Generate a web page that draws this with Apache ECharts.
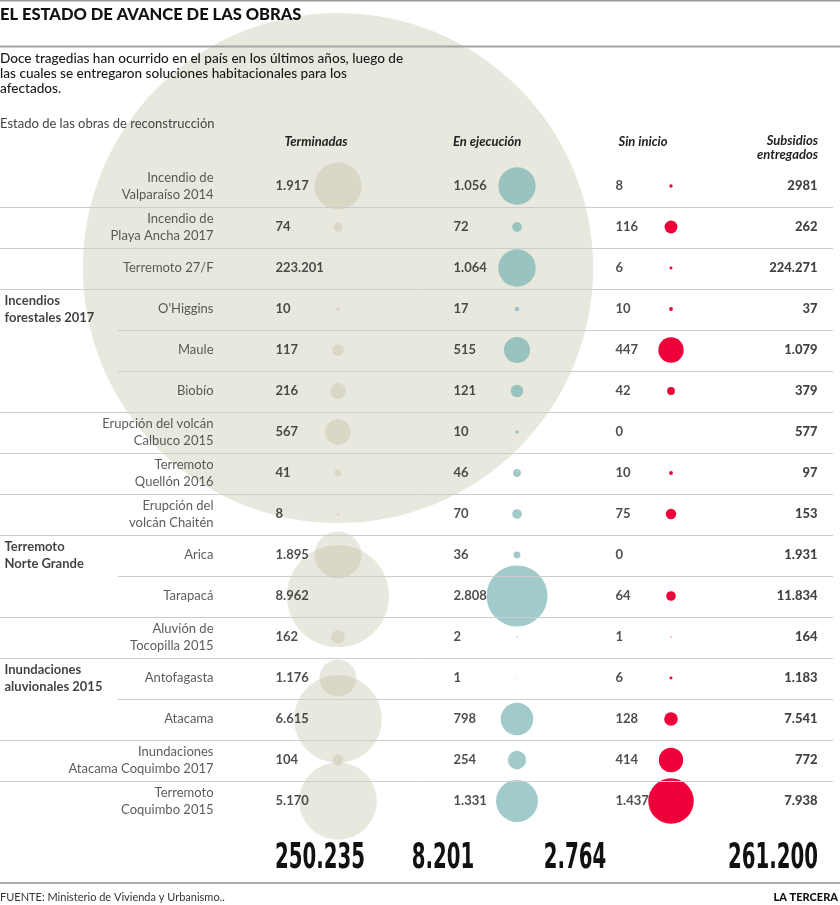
<!DOCTYPE html>
<html><head><meta charset="utf-8">
<script src="https://cdn.jsdelivr.net/npm/echarts@6/dist/echarts.min.js"></script>
<style>html,body{margin:0;padding:0;background:#fff}#c{width:840px;height:905px}</style>
</head><body><div id="c"></div>
<script>
// ---- data ----
const rows = ['Incendio de\nValparaíso 2014', 'Incendio de\nPlaya Ancha 2017', 'Terremoto 27/F', "O'Higgins", 'Maule', 'Biobío',
  'Erupción del volcán\nCalbuco 2015', 'Terremoto\nQuellón 2016', 'Erupción del\nvolcán Chaitén', 'Arica', 'Tarapacá',
  'Aluvión de\nTocopilla 2015', 'Antofagasta', 'Atacama', 'Inundaciones\nAtacama Coquimbo 2017', 'Terremoto\nCoquimbo 2015'];
const groupOf = [0, 0, 0, 1, 1, 1, 0, 0, 0, 2, 2, 0, 3, 3, 0, 0];
const groupNames = ['', 'Incendios\nforestales 2017', 'Terremoto\nNorte Grande', 'Inundaciones\naluvionales 2015'];
const terminadas = [1917, 74, 223201, 10, 117, 216, 567, 41, 8, 1895, 8962, 162, 1176, 6615, 104, 5170];
const enEjecucion = [1056, 72, 1064, 17, 515, 121, 10, 46, 70, 36, 2808, 2, 1, 798, 254, 1331];
const sinInicio = [8, 116, 6, 10, 447, 42, 0, 10, 75, 0, 64, 1, 6, 128, 414, 1437];
const subsidios = ['2981', '262', '224.271', '37', '1.079', '379', '577', '97', '153', '1.931', '11.834', '164', '1.183', '7.541', '772', '7.938'];
const totals = [250235, 8201, 2764, 261200];
const headers = ['Terminadas', 'En ejecución', 'Sin inicio', 'Subsidios\nentregados'];

// ---- layout ----
const F = 'Lato, "Open Sans", sans-serif';
const FT = '"DejaVu Sans Condensed", "DejaVu Sans", sans-serif';
const L = { groupLeft: 4, labelRight: 214, termNum: 275, termBubble: 338, ejNum: 453, ejBubble: 517,
  siNum: 615, siBubble: 671, subRight: 818, lineStart: 0, lineStartSub: 118, lineEnd: 833 };
const K = { term: 1.08, ej: 1.15, si: 1.2 };
const fmt = v => String(v).replace(/\B(?=(\d{3})+(?!\d))/g, '.');

function textSeries(x, labels, position, style) {
  return {
    type: 'scatter', z: 5, silent: true, clip: false, symbolSize: 1,
    itemStyle: { color: 'transparent' },
    data: labels.map((t, i) => ({ value: [x, i], name: t })).filter(d => d.name !== '' && d.name != null),
    label: Object.assign({ show: true, position, distance: 0, formatter: '{b}', fontFamily: F,
      fontSize: 13, color: '#222', lineHeight: 17 }, style)
  };
}
function bubbleSeries(x, values, k, color) {
  return {
    type: 'scatter', z: 2, silent: true, clip: false,
    data: values.map((v, i) => [x, i, v]).filter(d => d[2] > 0),
    symbolSize: d => k * Math.sqrt(d[2]),
    itemStyle: { color, opacity: 1 }
  };
}

const sepData = [];
for (let i = 0; i < rows.length - 1; i++) {
  const inner = groupOf[i] && groupOf[i] === groupOf[i + 1];
  sepData.push([inner ? L.lineStartSub : L.lineStart, i]);
}

const chart = echarts.init(document.getElementById('c'));
const txt = (x, y, text, o) => ({ type: 'text', x, y, z: 10, style: Object.assign({ text, fill: '#222', fontFamily: F, fontSize: 13, align: 'left', verticalAlign: 'middle' }, o) });
const totalTxt = (x, v, align) => Object.assign(txt(x, 859, fmt(v), { align, fontSize: 36, fontWeight: 'bold', fontFamily: FT, fill: '#111' }), { scaleX: 0.61 });

chart.setOption({
  animation: false,
  grid: { left: 0, right: 0, top: 165.5, height: 656 },
  xAxis: { type: 'value', min: 0, max: 840, show: false },
  yAxis: { type: 'category', data: rows.map((r, i) => i), inverse: true, show: false },
  series: [
    bubbleSeries(L.termBubble, terminadas, K.term, 'rgba(175,172,138,0.28)'),
    bubbleSeries(L.ejBubble, enEjecucion, K.ej, 'rgba(112,176,174,0.66)'),
    bubbleSeries(L.siBubble, sinInicio, K.si, '#f0003a'),
    {
      type: 'custom', z: 4, silent: true, clip: false, data: sepData,
      encode: { x: 0, y: 1 },
      renderItem: (p, api) => {
        const a = api.coord([api.value(0), api.value(1)]);
        const b = api.coord([L.lineEnd, api.value(1)]);
        const h = api.size([0, 1])[1];
        const y = Math.round(a[1] + h / 2) + 0.5;
        return { type: 'line', shape: { x1: a[0], y1: y, x2: b[0], y2: y }, style: { stroke: '#cdcdcd', lineWidth: 1 } };
      }
    },
    textSeries(L.labelRight, rows, 'left', { color: '#333' }),
    textSeries(L.groupLeft, groupOf.map((g, i) => (g && groupOf[i - 1] !== g) ? groupNames[g] : ''), 'right', { fontWeight: 'bold', color: '#111' }),
    textSeries(L.termNum, terminadas.map(fmt), 'right', { fontWeight: 'bold', color: '#222' }),
    textSeries(L.ejNum, enEjecucion.map(fmt), 'right', { fontWeight: 'bold', color: '#222' }),
    textSeries(L.siNum, sinInicio.map(fmt), 'right', { fontWeight: 'bold', color: '#222' }),
    textSeries(L.subRight, subsidios, 'left', { fontWeight: 900, color: '#111' })
  ],
  graphic: [
    { type: 'rect', shape: { x: 0, y: 0, width: 840, height: 1.5 }, style: { fill: '#9a9a9a' }, z: 10 },
    txt(0, 15, 'EL ESTADO DE AVANCE DE LAS OBRAS', { fontSize: 16.5, fontWeight: 900, fill: '#111' }),
    { type: 'rect', shape: { x: 0, y: 45.5, width: 840, height: 2 }, style: { fill: '#a5a5a5' }, z: 10 },
    txt(0, 74, 'Doce tragedias han ocurrido en el país en los últimos años, luego de\nlas cuales se entregaron soluciones habitacionales para los\nafectados.', { fontSize: 13.6, lineHeight: 15, fontWeight: 500, fill: '#1a1a1a' }),
    txt(0, 124, 'Estado de las obras de reconstrucción', { fill: '#444' }),
    txt(316, 142, headers[0], { align: 'center', fontWeight: 'bold', fontStyle: 'italic' }),
    txt(L.ejNum, 142, headers[1], { fontWeight: 'bold', fontStyle: 'italic' }),
    txt(643, 142, headers[2], { align: 'center', fontWeight: 'bold', fontStyle: 'italic' }),
    txt(L.subRight, 148, headers[3], { align: 'right', lineHeight: 14, fontWeight: 'bold', fontStyle: 'italic' }),
    totalTxt(320, totals[0], 'center'),
    totalTxt(443, totals[1], 'center'),
    totalTxt(575, totals[2], 'center'),
    totalTxt(L.subRight, totals[3], 'right'),
    { type: 'rect', shape: { x: 0, y: 882, width: 840, height: 2 }, style: { fill: '#aaaaaa' }, z: 10 },
    txt(0, 897, 'FUENTE: Ministerio de Vivienda y Urbanismo..', { fontSize: 11, fill: '#333' }),
    txt(838, 897, 'LA TERCERA', { align: 'right', fontSize: 11, fontWeight: 900, fill: '#111' })
  ]
});
</script></body></html>
